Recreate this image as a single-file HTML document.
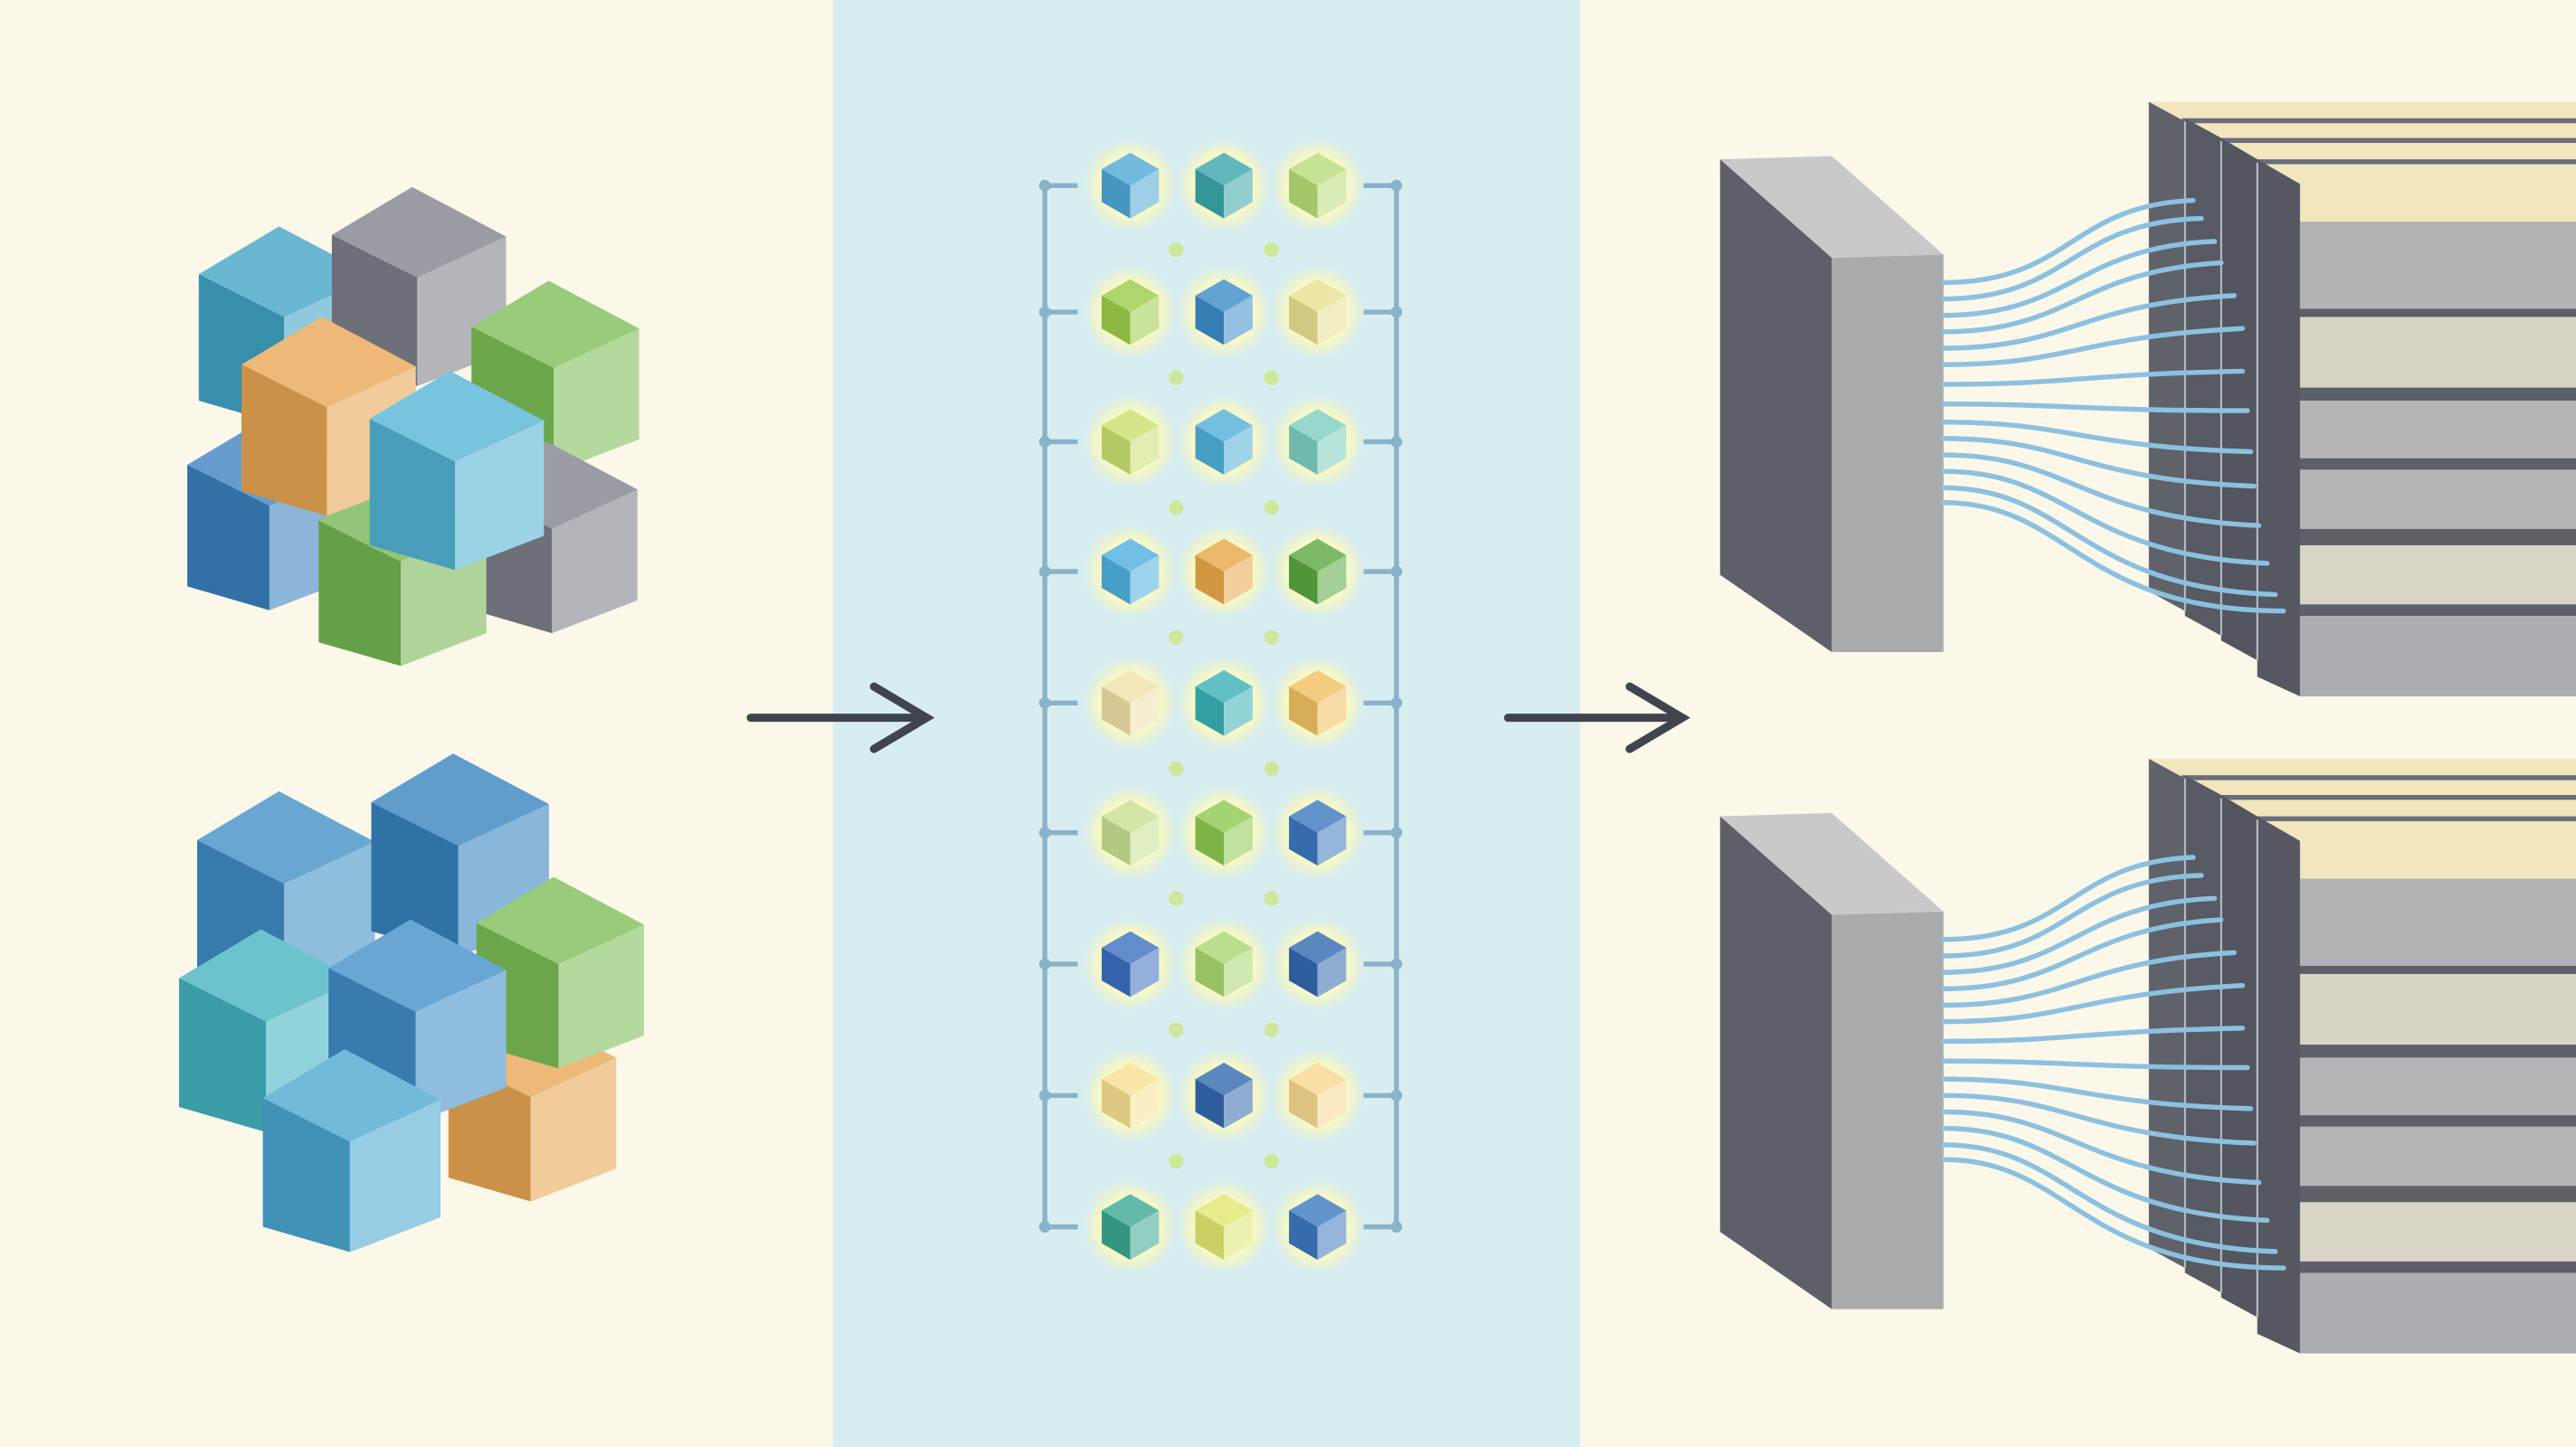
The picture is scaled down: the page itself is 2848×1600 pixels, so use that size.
<!DOCTYPE html>
<html><head><meta charset="utf-8"><style>html,body{margin:0;padding:0;overflow:hidden;background:#fbf7e9}svg{display:block}</style></head>
<body>
<svg width="2848" height="1600" viewBox="0 0 1568 881" preserveAspectRatio="none" xmlns="http://www.w3.org/2000/svg">
<defs>
<g id="c">
<path d="M-1,-0.5 L-0.06,-1.06 L1.04,-0.48 L0,0Z" fill="currentColor"/>
<path d="M-1,-0.5 L-0.06,-1.06 L1.04,-0.48 L0,0Z" fill="#fff" opacity=".22"/>
<path d="M-1,-0.5 L0,0 L0,1.27 L-1,0.98Z" fill="currentColor"/>
<path d="M-1,-0.5 L0,0 L0,1.27 L-1,0.98Z" fill="#000" opacity=".12"/>
<path d="M0,0 L1.04,-0.48 L1.04,0.87 L0,1.27Z" fill="currentColor"/>
<path d="M0,0 L1.04,-0.48 L1.04,0.87 L0,1.27Z" fill="#fff" opacity=".42"/>
</g>
<g id="h">
<path d="M0,-1 L.87,-.5 L0,0 L-.87,-.5Z" fill="currentColor"/>
<path d="M0,-1 L.87,-.5 L0,0 L-.87,-.5Z" fill="#fff" opacity=".2"/>
<path d="M-.87,-.5 L0,0 L0,1 L-.87,.5Z" fill="currentColor"/>
<path d="M-.87,-.5 L0,0 L0,1 L-.87,.5Z" fill="#000" opacity=".1"/>
<path d="M0,0 L.87,-.5 L.87,.5 L0,1Z" fill="currentColor"/>
<path d="M0,0 L.87,-.5 L.87,.5 L0,1Z" fill="#fff" opacity=".45"/>
</g>
<radialGradient id="gl"><stop offset="0" stop-color="#ffffe0" stop-opacity="1"/><stop offset=".65" stop-color="#fffbc0" stop-opacity=".85"/><stop offset="1" stop-color="#fff8a0" stop-opacity="0"/></radialGradient>
<g id="slab">
<polygon points="0,2 68,0 136,60 68,62" fill="#c9c9cc"/>
<polygon points="0,2 68,62 68,302 0,255" fill="#5d6068"/>
<polygon points="68,62 136,60 136,302 68,302" fill="#a9aaae"/>
</g>
<g id="stack">
<rect x="0" y="0" width="260" height="75" fill="#f1e6bd"/>
<g fill="#6a6d78"><rect x="20" y="10" width="240" height="3"/><rect x="42" y="22" width="218" height="3"/><rect x="64" y="35" width="196" height="3"/></g>
<rect x="92" y="73" width="168" height="53" fill="#b2b2b6"/>
<rect x="64" y="126" width="196" height="5" fill="#5d6069"/>
<polygon points="64,131 260,131 260,174 92,174" fill="#d8d4c4"/>
<rect x="64" y="174" width="196" height="8" fill="#5d6069"/>
<polygon points="64,182 260,182 260,217 92,217" fill="#b5b5b9"/>
<rect x="64" y="217" width="196" height="7" fill="#5d6069"/>
<polygon points="64,224 260,224 260,260 92,260" fill="#b3b4b8"/>
<rect x="64" y="260" width="196" height="10" fill="#5d6069"/>
<polygon points="64,270 260,270 260,306 92,306" fill="#d9d5c6"/>
<rect x="64" y="306" width="196" height="7" fill="#5d6069"/>
<rect x="92" y="313" width="168" height="49" fill="#acadb2"/>
<polygon points="0,0 22,12 22,310 0,298" fill="#5f6269"/>
<polygon points="22,10 44,22 44,325 22,313" fill="#575a62"/>
<polygon points="44,22 66,35 66,340 44,328" fill="#53565e"/>
<polygon points="66,35 92,50 92,362 66,350" fill="#555860"/>
<g stroke="#c8ccd4" stroke-width="1"><line x1="22" y1="12" x2="22" y2="310"/><line x1="44" y1="24" x2="44" y2="325"/><line x1="66" y1="37" x2="66" y2="340"/></g>
</g>
</defs>
<rect x="0" y="0" width="1568" height="881" fill="#fbf7e9"/>
<rect x="507" y="0" width="455" height="881" fill="#d8edf0"/>

<g stroke="#40444f" stroke-width="5" fill="none" stroke-linecap="round">
<line x1="457" y1="437" x2="562" y2="437"/><polyline points="532,418 564,437 532,456"/>
<line x1="918" y1="437" x2="1022" y2="437"/><polyline points="992,418 1024,437 992,456"/>
</g>

<!-- top-left cluster -->
<use href="#c" transform="translate(173,193) scale(52)" color="#3fa3c4"/>
<use href="#c" transform="translate(254,169) scale(52)" color="#7d8089"/>
<use href="#c" transform="translate(337,224) scale(50)" color="#7cbd55"/>
<use href="#c" transform="translate(164,308) scale(50)" color="#3a80bf"/>
<use href="#c" transform="translate(336,322) scale(50)" color="#7d8089"/>
<use href="#c" transform="translate(244,342) scale(50)" color="#74b552"/>
<use href="#c" transform="translate(199,248) scale(52)" color="#e8a552"/>
<use href="#c" transform="translate(277,281) scale(52)" color="#52b3d4"/>

<!-- bottom cluster -->
<use href="#c" transform="translate(173,538) scale(53)" color="#3f8dc4"/>
<use href="#c" transform="translate(279,515) scale(53)" color="#3582bd"/>
<use href="#c" transform="translate(162,622) scale(53)" color="#43b3c0"/>
<use href="#c" transform="translate(323,668) scale(50)" color="#e8a552"/>
<use href="#c" transform="translate(340,587) scale(50)" color="#7cbd55"/>
<use href="#c" transform="translate(253,616) scale(53)" color="#3f8dc8"/>
<use href="#c" transform="translate(213,695) scale(53)" color="#4aa7d0"/>

<g stroke="#8ab2c8" stroke-width="3" fill="none">
<line x1="636" y1="113" x2="636" y2="747"/><line x1="850" y1="113" x2="850" y2="747"/>
<path d="M636,113h20M636,190h20M636,269h20M636,348h20M636,428h20M636,507h20M636,587h20M636,667h20M636,747h20M850,113h-20M850,190h-20M850,269h-20M850,348h-20M850,428h-20M850,507h-20M850,587h-20M850,667h-20M850,747h-20"/>
</g>
<g fill="#8ab2c8"><circle cx="636" cy="113" r="3.5"/><circle cx="850" cy="113" r="3.5"/><circle cx="636" cy="190" r="3.5"/><circle cx="850" cy="190" r="3.5"/><circle cx="636" cy="269" r="3.5"/><circle cx="850" cy="269" r="3.5"/><circle cx="636" cy="348" r="3.5"/><circle cx="850" cy="348" r="3.5"/><circle cx="636" cy="428" r="3.5"/><circle cx="850" cy="428" r="3.5"/><circle cx="636" cy="507" r="3.5"/><circle cx="850" cy="507" r="3.5"/><circle cx="636" cy="587" r="3.5"/><circle cx="850" cy="587" r="3.5"/><circle cx="636" cy="667" r="3.5"/><circle cx="850" cy="667" r="3.5"/><circle cx="636" cy="747" r="3.5"/><circle cx="850" cy="747" r="3.5"/></g>
<g fill="#cde89a">
<circle cx="716" cy="152" r="4.5"/><circle cx="774" cy="152" r="4.5"/><circle cx="716" cy="230" r="4.5"/><circle cx="774" cy="230" r="4.5"/><circle cx="716" cy="309" r="4.5"/><circle cx="774" cy="309" r="4.5"/><circle cx="716" cy="388" r="4.5"/><circle cx="774" cy="388" r="4.5"/><circle cx="716" cy="468" r="4.5"/><circle cx="774" cy="468" r="4.5"/><circle cx="716" cy="547" r="4.5"/><circle cx="774" cy="547" r="4.5"/><circle cx="716" cy="627" r="4.5"/><circle cx="774" cy="627" r="4.5"/><circle cx="716" cy="707" r="4.5"/><circle cx="774" cy="707" r="4.5"/>
</g>
<g fill="url(#gl)">
<circle cx="688" cy="113" r="28"/><circle cx="745" cy="113" r="28"/><circle cx="802" cy="113" r="28"/>
<circle cx="688" cy="190" r="28"/><circle cx="745" cy="190" r="28"/><circle cx="802" cy="190" r="28"/>
<circle cx="688" cy="269" r="28"/><circle cx="745" cy="269" r="28"/><circle cx="802" cy="269" r="28"/>
<circle cx="688" cy="348" r="28"/><circle cx="745" cy="348" r="28"/><circle cx="802" cy="348" r="28"/>
<circle cx="688" cy="428" r="28"/><circle cx="745" cy="428" r="28"/><circle cx="802" cy="428" r="28"/>
<circle cx="688" cy="507" r="28"/><circle cx="745" cy="507" r="28"/><circle cx="802" cy="507" r="28"/>
<circle cx="688" cy="587" r="28"/><circle cx="745" cy="587" r="28"/><circle cx="802" cy="587" r="28"/>
<circle cx="688" cy="667" r="28"/><circle cx="745" cy="667" r="28"/><circle cx="802" cy="667" r="28"/>
<circle cx="688" cy="747" r="28"/><circle cx="745" cy="747" r="28"/><circle cx="802" cy="747" r="28"/>
</g>
<g>
<use href="#h" transform="translate(688,113) scale(20)" color="#4fa8d6"/><use href="#h" transform="translate(745,113) scale(20)" color="#3aa6aa"/><use href="#h" transform="translate(802,113) scale(20)" color="#b8dc78"/>
<use href="#h" transform="translate(688,190) scale(20)" color="#9ccc48"/><use href="#h" transform="translate(745,190) scale(20)" color="#3d8cc8"/><use href="#h" transform="translate(802,190) scale(20)" color="#e8e090"/>
<use href="#h" transform="translate(688,269) scale(20)" color="#c8e070"/><use href="#h" transform="translate(745,269) scale(20)" color="#4fb0d8"/><use href="#h" transform="translate(802,269) scale(20)" color="#7cd0c0"/>
<use href="#h" transform="translate(688,348) scale(20)" color="#4fb0e0"/><use href="#h" transform="translate(745,348) scale(20)" color="#e8a848"/><use href="#h" transform="translate(802,348) scale(20)" color="#5aa840"/>
<use href="#h" transform="translate(688,428) scale(20)" color="#f0e0a8"/><use href="#h" transform="translate(745,428) scale(20)" color="#3ab0b8"/><use href="#h" transform="translate(802,428) scale(20)" color="#f0c060"/>
<use href="#h" transform="translate(688,507) scale(20)" color="#c8e090"/><use href="#h" transform="translate(745,507) scale(20)" color="#8cc850"/><use href="#h" transform="translate(802,507) scale(20)" color="#3d78c0"/>
<use href="#h" transform="translate(688,587) scale(20)" color="#3d70c0"/><use href="#h" transform="translate(745,587) scale(20)" color="#a8d870"/><use href="#h" transform="translate(802,587) scale(20)" color="#3468b0"/>
<use href="#h" transform="translate(688,667) scale(20)" color="#f8e090"/><use href="#h" transform="translate(745,667) scale(20)" color="#3468b0"/><use href="#h" transform="translate(802,667) scale(20)" color="#f8d890"/>
<use href="#h" transform="translate(688,747) scale(20)" color="#3aa890"/><use href="#h" transform="translate(745,747) scale(20)" color="#e0e870"/><use href="#h" transform="translate(802,747) scale(20)" color="#3d78c0"/>
</g>

<use href="#stack" transform="translate(1308,62)"/>
<use href="#stack" transform="translate(1308,462)"/>
<use href="#slab" transform="translate(1047,95)"/>
<use href="#slab" transform="translate(1047,495)"/>
<g stroke="#8cc0e0" stroke-width="3" fill="none" stroke-linecap="round">
<path d="M1183,172 C1260,172 1260,125 1335,122"/><path d="M1183,182 C1260,182 1260,135 1340,133"/><path d="M1183,192 C1260,192 1265,150 1348,147"/><path d="M1183,202 C1260,202 1265,165 1352,160"/><path d="M1183,212 C1260,212 1265,185 1360,180"/><path d="M1183,222 C1260,222 1265,205 1365,200"/><path d="M1183,234 C1260,234 1265,228 1365,226"/><path d="M1183,246 C1260,246 1265,250 1368,250"/><path d="M1183,257 C1260,257 1265,272 1370,275"/><path d="M1183,267 C1260,267 1265,292 1372,296"/><path d="M1183,277 C1260,277 1265,315 1375,320"/><path d="M1183,287 C1260,287 1265,338 1380,343"/><path d="M1183,297 C1260,297 1265,358 1385,362"/><path d="M1183,306 C1260,306 1265,372 1390,372"/>
<path d="M1183,572 C1260,572 1260,525 1335,522"/><path d="M1183,582 C1260,582 1260,535 1340,533"/><path d="M1183,592 C1260,592 1265,550 1348,547"/><path d="M1183,602 C1260,602 1265,565 1352,560"/><path d="M1183,612 C1260,612 1265,585 1360,580"/><path d="M1183,622 C1260,622 1265,605 1365,600"/><path d="M1183,634 C1260,634 1265,628 1365,626"/><path d="M1183,646 C1260,646 1265,650 1368,650"/><path d="M1183,657 C1260,657 1265,672 1370,675"/><path d="M1183,667 C1260,667 1265,692 1372,696"/><path d="M1183,677 C1260,677 1265,715 1375,720"/><path d="M1183,687 C1260,687 1265,738 1380,743"/><path d="M1183,697 C1260,697 1265,758 1385,762"/><path d="M1183,706 C1260,706 1265,772 1390,772"/>
</g>
</svg>
</body></html>
